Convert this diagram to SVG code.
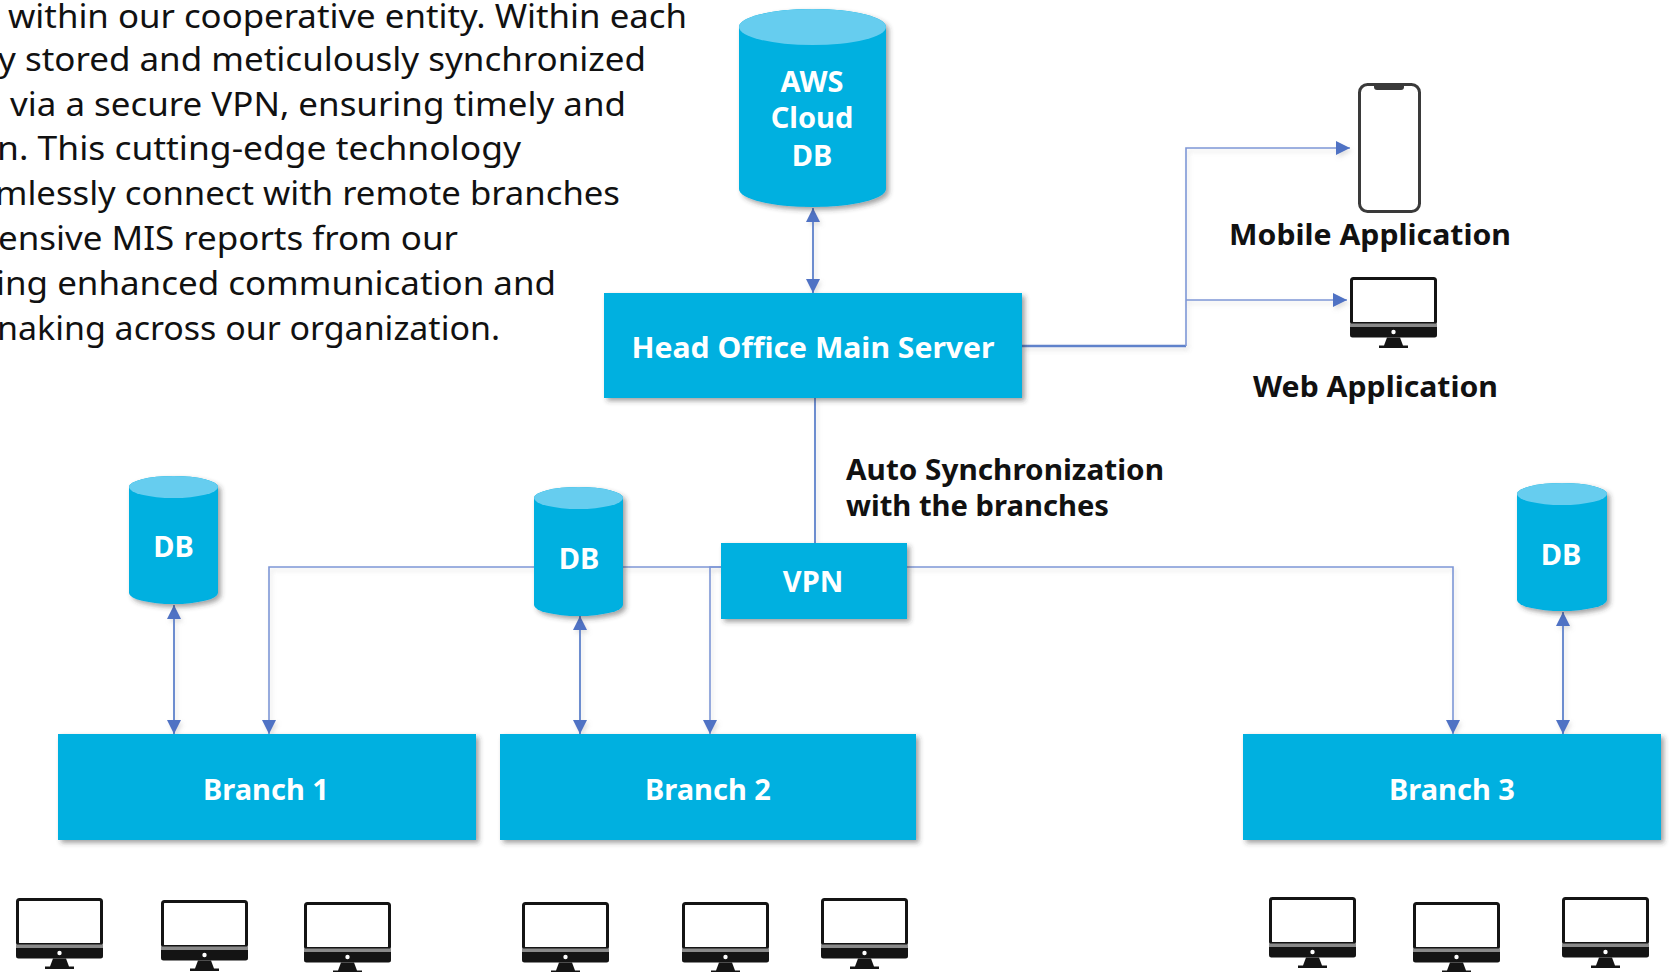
<svg xmlns="http://www.w3.org/2000/svg" width="1669" height="972" viewBox="0 0 1669 972">
<style>
text{font-family:"Noto Sans","Open Sans","Liberation Sans",sans-serif}
.p{font-size:33.5px;fill:#111}
.b{font-size:29px;font-weight:700;fill:#fff;text-anchor:middle}
.l{font-size:29px;font-weight:700;fill:#111}
.box,.cyl{fill:#00b0e0;filter:url(#sh)}
.top{fill:#66cdef}
.c{fill:none;stroke:#7e97d6;stroke-width:1.6;filter:url(#lsh)}
.d{stroke:#5f82cb;stroke-width:1.8}
.m{stroke:#5f82cb;stroke-width:2.6}
</style>
<defs>
<filter id="sh" x="-10%" y="-10%" width="125%" height="125%"><feDropShadow dx="3" dy="3" stdDeviation="2.5" flood-color="#333" flood-opacity=".45"/></filter>
<filter id="lsh" x="-5%" y="-5%" width="110%" height="110%" filterUnits="userSpaceOnUse" primitiveUnits="userSpaceOnUse"><feDropShadow dx="2" dy="3" stdDeviation="2" flood-color="#888" flood-opacity=".25"/></filter>
<marker id="a" markerUnits="userSpaceOnUse" markerWidth="15" markerHeight="14" refX="14" refY="7" orient="auto-start-reverse"><path d="M0 0L14 7L0 14Z" fill="#4f72c4"/></marker>
<symbol id="mon" width="88" height="72" viewBox="0 0 88 72" overflow="visible">
<rect x="1.5" y="1.5" width="84" height="45" rx="2" fill="#fff" stroke="#141414" stroke-width="3"/>
<rect x="0" y="46.5" width="87" height="2.5" fill="#8a8a8a"/>
<path d="M0 49.5H87V58a2.5 2.5 0 0 1-2.5 2.5H2.5A2.5 2.5 0 0 1 0 58Z" fill="#141414"/>
<circle cx="43.5" cy="55" r="2.2" fill="#fff"/>
<path d="M37 60.5H50L53 68.5H58V71H29V68.5H34Z" fill="#141414"/>
</symbol>
</defs>
<rect width="1669" height="972" fill="#fff"/>
<g id="paragraph" class="p">
<text x="8" y="28" textLength="679" lengthAdjust="spacingAndGlyphs">within our cooperative entity. Within each</text>
<text x="-2" y="71" textLength="648" lengthAdjust="spacingAndGlyphs">y stored and meticulously synchronized</text>
<text x="10" y="116" textLength="616" lengthAdjust="spacingAndGlyphs">via a secure VPN, ensuring timely and</text>
<text x="-3" y="160" textLength="524" lengthAdjust="spacingAndGlyphs">n. This cutting-edge technology</text>
<text x="-5" y="205" textLength="625" lengthAdjust="spacingAndGlyphs">mlessly connect with remote branches</text>
<text x="-2" y="250" textLength="460" lengthAdjust="spacingAndGlyphs">ensive MIS reports from our</text>
<text x="-4" y="295" textLength="560" lengthAdjust="spacingAndGlyphs">ing enhanced communication and</text>
<text x="-3" y="340" textLength="503" lengthAdjust="spacingAndGlyphs">naking across our organization.</text>
</g>
<g id="connectors">
<path class="c m" d="M1022 346H1186"/>
<path class="c" d="M1186 346V148H1350" marker-end="url(#a)"/>
<path class="c" d="M1186 300H1347" marker-end="url(#a)"/>
<path class="c d" d="M813 208L813 293" marker-start="url(#a)" marker-end="url(#a)"/>
<path class="c d" d="M815 398V543"/>
<path class="c" d="M534 567H269V734" marker-end="url(#a)"/>
<path class="c" d="M623 567H721"/>
<path class="c" d="M721 567H710V734" marker-end="url(#a)"/>
<path class="c" d="M907 567H1453V734" marker-end="url(#a)"/>
<path class="c d" d="M174 605V734" marker-start="url(#a)" marker-end="url(#a)"/>
<path class="c d" d="M580 616V734" marker-start="url(#a)" marker-end="url(#a)"/>
<path class="c d" d="M1563 612V734" marker-start="url(#a)" marker-end="url(#a)"/>
</g>
<g id="aws">
<path class="cyl" d="M739 27A73.500 18 0 0 1 886 27V189A73.500 18 0 0 1 739 189Z"/>
<ellipse class="top" cx="812.500" cy="27" rx="73.500" ry="18"/>
<text class="b" x="812" y="92">AWS</text><text class="b" x="812" y="128">Cloud</text><text class="b" x="812" y="166">DB</text>
</g>
<g id="head-office"><rect class="box" x="604" y="293" width="418" height="105"/><text class="b" x="813" y="358" textLength="363" lengthAdjust="spacingAndGlyphs">Head Office Main Server</text></g>
<g id="vpn"><rect class="box" x="721" y="543" width="186" height="76"/><text class="b" x="813" y="592">VPN</text></g>
<g id="db1"><path class="cyl" d="M129 487A44.500 11 0 0 1 218 487V593A44.500 11 0 0 1 129 593Z"/><ellipse class="top" cx="173.500" cy="487" rx="44.500" ry="11"/><text class="b" x="173.500" y="557">DB</text></g>
<g id="db2"><path class="cyl" d="M534 498A44.500 11 0 0 1 623 498V605A44.500 11 0 0 1 534 605Z"/><ellipse class="top" cx="578.500" cy="498" rx="44.500" ry="11"/><text class="b" x="579" y="569">DB</text></g>
<g id="db3"><path class="cyl" d="M1517 494A45 11 0 0 1 1607 494V600A45 11 0 0 1 1517 600Z"/><ellipse class="top" cx="1562" cy="494" rx="45" ry="11"/><text class="b" x="1561" y="565">DB</text></g>
<g id="branch1"><rect class="box" x="58" y="734" width="418" height="106"/><text class="b" x="266" y="800">Branch 1</text></g>
<g id="branch2"><rect class="box" x="500" y="734" width="416" height="106"/><text class="b" x="708" y="800">Branch 2</text></g>
<g id="branch3"><rect class="box" x="1243" y="734" width="418" height="106"/><text class="b" x="1452" y="800">Branch 3</text></g>
<g id="mobile"><rect x="1359.500" y="84.500" width="60" height="127" rx="8" fill="#fff" stroke="#3a3a3a" stroke-width="3"/><path d="M1374 84H1404V87a3 3 0 0 1-3 3H1377a3 3 0 0 1-3-3Z" fill="#3a3a3a"/>
<text class="l" x="1229" y="245" textLength="282" lengthAdjust="spacingAndGlyphs">Mobile Application</text></g>
<g id="web"><use href="#mon" x="1350" y="277"/><text class="l" x="1253" y="397" textLength="245" lengthAdjust="spacingAndGlyphs">Web Application</text></g>
<g id="sync-label" class="l"><text x="846" y="480" textLength="318" lengthAdjust="spacingAndGlyphs">Auto Synchronization</text><text x="846" y="516" textLength="263" lengthAdjust="spacingAndGlyphs">with the branches</text></g>
<g id="pc1"><use href="#mon" x="16" y="898"/></g>
<g id="pc2"><use href="#mon" x="161" y="900"/></g>
<g id="pc3"><use href="#mon" x="304" y="902"/></g>
<g id="pc4"><use href="#mon" x="522" y="902"/></g>
<g id="pc5"><use href="#mon" x="682" y="902"/></g>
<g id="pc6"><use href="#mon" x="821" y="898"/></g>
<g id="pc7"><use href="#mon" x="1269" y="897"/></g>
<g id="pc8"><use href="#mon" x="1413" y="902"/></g>
<g id="pc9"><use href="#mon" x="1562" y="897"/></g>
</svg>
